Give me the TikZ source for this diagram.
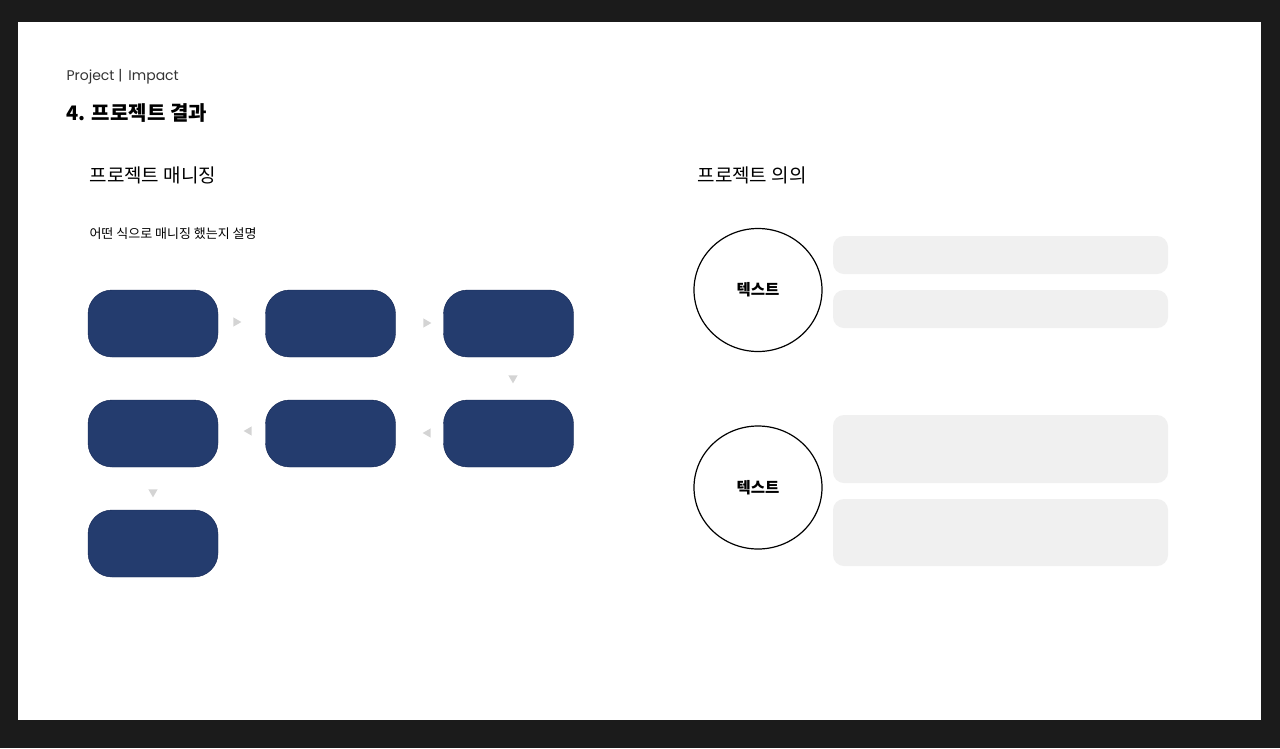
\documentclass[tikz,border=0pt]{standalone}
\usepackage{fontspec}
\setmainfont{Noto Sans CJK KR}
\newfontfamily\latinfont{Poppins}
\usetikzlibrary{shapes.geometric}
\definecolor{frame}{HTML}{1B1B1B}
\definecolor{navy}{HTML}{243C6E}
\definecolor{navyline}{HTML}{132654}
\definecolor{marker}{HTML}{D4D4D4}
\definecolor{panel}{HTML}{F0F0F0}
\tikzset{
    stepbox/.style={draw=navyline, fill=navy, rounded corners=24pt,
        minimum width=130pt, minimum height=67pt, inner sep=0pt},
    flowmark/.style={isosceles triangle, isosceles triangle apex angle=60,
        fill=marker, inner sep=0pt, minimum height=8pt, minimum width=9pt},
    ringnode/.style={ellipse, draw=black, line width=1.2pt, minimum width=128pt,
        minimum height=123pt, inner sep=0pt, font=\bfseries\fontsize{15.5}{18}\selectfont},
    panelbox/.style={fill=panel, rounded corners=11pt, inner sep=0pt}
}
\begin{document}
\begin{tikzpicture}[x=1pt, y=-1pt]
        % Frame and slide
        \fill[frame] (0,0) rectangle (1280,748);
        \fill[white] (18,22) rectangle (1261,720);
        \useasboundingbox (0,0) rectangle (1280,748);

        % Header
        \node[anchor=west, text=black!80, font=\latinfont\fontsize{14}{16}\selectfont] (tag) at (63,77) {Project |\, Impact};
        \node[anchor=west, font=\bfseries\fontsize{20}{24}\selectfont] (title) at (63,113) {4. 프로젝트 결과};

        % Left column
        \node[anchor=west, font=\fontsize{19}{22}\selectfont] (leftHead) at (86,175) {프로젝트 매니징};
        \node[anchor=west, font=\fontsize{13}{15}\selectfont] (leftNote) at (86,234) {어떤 식으로 매니징 했는지 설명};

        % Process boxes
        \node[stepbox] (s1) at (153,323.5) {};
        \node[stepbox] (s2) at (330.5,323.5) {};
        \node[stepbox] (s3) at (508.5,323.5) {};
        \node[stepbox] (s4) at (508.5,433.5) {};
        \node[stepbox] (s5) at (330.5,433.5) {};
        \node[stepbox] (s6) at (153,433.5) {};
        \node[stepbox] (s7) at (153,543.5) {};

        % Flow markers
        \node[flowmark, shape border rotate=0] (m12) at (236,322) {};
        \node[flowmark, shape border rotate=0] (m23) at (426,323) {};
        \node[flowmark, shape border rotate=-90] (m34) at (513,378) {};
        \node[flowmark, shape border rotate=180] (m45) at (428,433) {};
        \node[flowmark, shape border rotate=180] (m56) at (249,431) {};
        \node[flowmark, shape border rotate=-90] (m67) at (153,492) {};

        % Right column
        \node[anchor=west, font=\fontsize{19}{22}\selectfont] (rightHead) at (694,175) {프로젝트 의의};
        \node[ringnode] (r1) at (758,290) {텍스트};
        \node[ringnode] (r2) at (758,487.5) {텍스트};

        \foreach \i/\ya/\yb in {1/236/274, 2/290/328, 3/415/483, 4/499/566} {
            \fill[panel, rounded corners=11pt] (833,\ya) rectangle (1168,\yb);
        }
    \end{tikzpicture}
\end{document}
